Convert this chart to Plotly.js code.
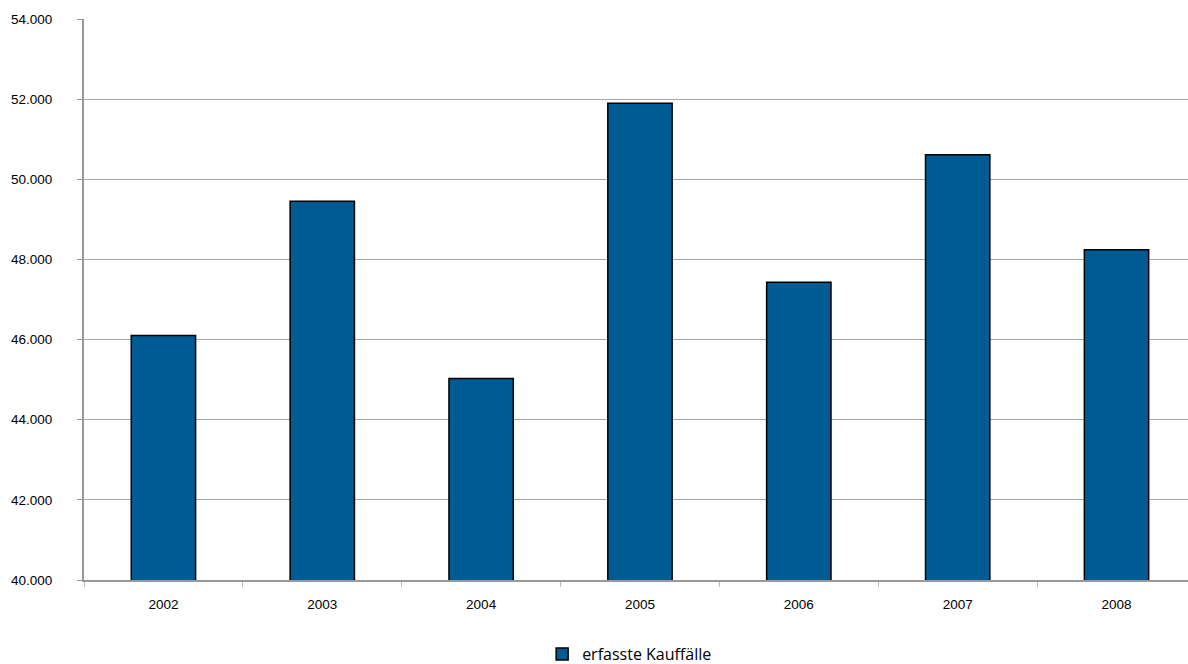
<!DOCTYPE html>
<html>
<head>
<meta charset="utf-8">
<script src="https://cdn.plot.ly/plotly-3.0.1.min.js"></script>
<style>html,body{margin:0;padding:0;background:#fff;}#chart{width:1188px;height:664px;}</style>
</head>
<body>
<div id="chart"></div>
<script>
var years = ["2002", "2003", "2004", "2005", "2006", "2007", "2008"];
var kauffaelle = [46100, 49450, 45030, 51900, 47430, 50610, 48240];
var seriesName = "erfasste Kauffälle";
var yTicks = [40000, 42000, 44000, 46000, 48000, 50000, 52000, 54000];

var trace = {
  type: "bar",
  x: years,
  y: kauffaelle,
  name: seriesName,
  marker: {color: "#005a94", line: {color: "#000000", width: 1.5}},
  hoverinfo: "x+y"
};

var layout = {
  width: 1188,
  height: 664,
  margin: {l: 84, r: 0, t: 19, b: 84, autoexpand: false},
  paper_bgcolor: "#ffffff",
  plot_bgcolor: "#ffffff",
  separators: ",.",
  bargap: 0.595,
  showlegend: true,
  legend: {
    orientation: "h",
    xref: "container",
    yref: "container",
    x: 0.530, xanchor: "center",
    y: 0.015, yanchor: "middle",
    font: {family: "Open Sans, sans-serif", size: 16, color: "#000"}
  },
  xaxis: {
    type: "category",
    range: [-0.5, 6.45],
    showgrid: false,
    showline: true,
    linecolor: "#999999",
    linewidth: 2,
    ticks: "outside",
    tickson: "boundaries",
    ticklen: 5,
    tickcolor: "#bbbbbb",
    ticklabelstandoff: 11,
    tickfont: {family: "Liberation Sans, Arial, sans-serif", size: 13.5, color: "#000"},
    zeroline: false
  },
  yaxis: {
    range: [40000, 54000],
    tickvals: yTicks,
    tickformat: ",d",
    showgrid: true,
    gridcolor: "#a6a6a6",
    gridwidth: 1,
    showline: true,
    linecolor: "#999999",
    linewidth: 2,
    ticks: "outside",
    ticklen: 5,
    tickcolor: "#999999",
    ticklabelstandoff: 22,
    tickfont: {family: "Liberation Sans, Arial, sans-serif", size: 13.5, color: "#000"},
    zeroline: false
  }
};

Plotly.newPlot("chart", [trace], layout, {displayModeBar: false, staticPlot: true});
</script>
</body>
</html>
